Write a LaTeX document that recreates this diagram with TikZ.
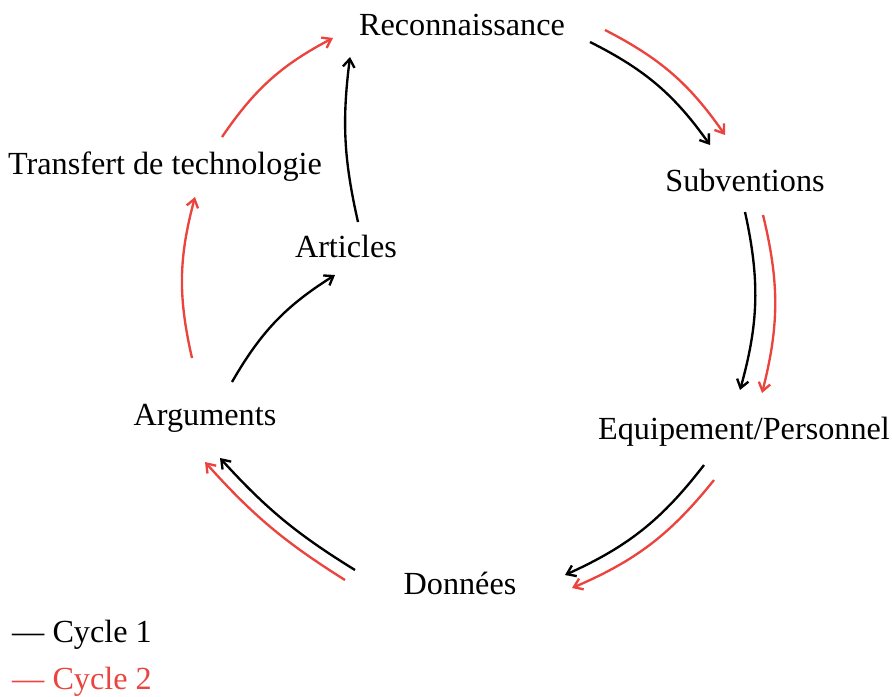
\documentclass[tikz,border=0pt]{standalone}
\usepackage{fontspec}
\setmainfont{Liberation Serif}
\usetikzlibrary{arrows.meta}
\definecolor{cyclered}{RGB}{235,68,62}

\begin{document}
\begin{tikzpicture}[x=0.03cm, y=-0.03cm,
    every node/.style={font=\fontsize{27.5}{32}\selectfont, inner sep=0pt},
    cycleone/.style={black, line width=2pt, -{Straight Barb[length=7pt,width=10pt]}, bend left=14},
    cycletwo/.style={cyclered, line width=2pt, -{Straight Barb[length=7pt,width=10pt]}, bend left=14}]

    \useasboundingbox (0,0) rectangle (892,696);

    % stations of the cycle
    \node (rec) at (462,25) {Reconnaissance};
    \node (sub) at (745,180) {Subventions};
    \node (equ) at (744,432) {Equipement/Personnel};
    \node (don) at (460,583) {Donn\'ees};
    \node (arg) at (205,418) {Arguments};
    \node (art) at (346,246) {Articles};
    \node (tra) at (165,167) {Transfert de technologie};

    % cycle 1
    \draw[cycleone] ([shift={(128,17)}]rec.center) to ([shift={(-35,-35)}]sub.center);
    \draw[cycleone] ([shift={(0,32)}]sub.center) to ([shift={(-4,-42)}]equ.center);
    \draw[cycleone] ([shift={(-40,33)}]equ.center) to ([shift={(105,-8)}]don.center);
    \draw[cycleone, bend left=8] ([shift={(-105,-13)}]don.center) to ([shift={(15,40)}]arg.center);
    \draw[cycleone] ([shift={(27,-36)}]arg.center) to ([shift={(-11,29)}]art.center);
    \draw[cycleone, bend left=10] ([shift={(12,-24)}]art.center) to ([shift={(-112,32)}]rec.center);

    % cycle 2
    \draw[cycletwo] ([shift={(143,5)}]rec.center) to ([shift={(-20,-45)}]sub.center);
    \draw[cycletwo] ([shift={(18,35)}]sub.center) to ([shift={(18,-39)}]equ.center);
    \draw[cycletwo] ([shift={(-30,48)}]equ.center) to ([shift={(112,5)}]don.center);
    \draw[cycletwo, bend left=8] ([shift={(-115,-3)}]don.center) to ([shift={(0,44)}]arg.center);
    \draw[cycletwo] ([shift={(-13,-60)}]arg.center) to ([shift={(30,30)}]tra.center);
    \draw[cycletwo] ([shift={(57,-30)}]tra.center) to ([shift={(-129,13)}]rec.center);

    % legend
    \node[anchor=west] (leg1) at (12,635) {--- Cycle 1};
    \node[anchor=west, text=cyclered] (leg2) at (12,682) {--- Cycle 2};

\end{tikzpicture}
\end{document}
